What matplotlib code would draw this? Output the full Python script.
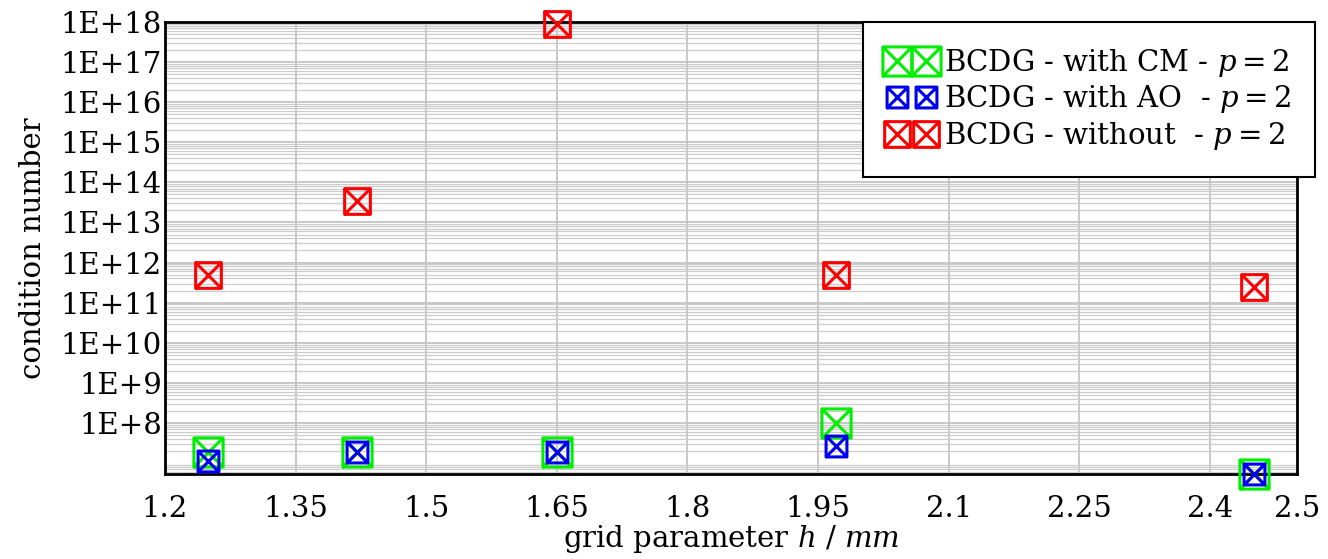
import matplotlib
matplotlib.use("Agg")
import matplotlib.pyplot as plt
import numpy as np
from matplotlib.path import Path
from matplotlib.ticker import LogLocator, FixedLocator, FuncFormatter, NullFormatter

plt.rcParams["font.family"] = ["DejaVu Serif"]
plt.rcParams["mathtext.fontset"] = "dejavuserif"

# grid parameter h (mm)
h_vals = [1.25, 1.42, 1.65, 1.97, 2.45]

# condition numbers
cond_cm = [1.9e7, 1.9e7, 1.9e7, 1.0e8, 5.3e6]
cond_ao = [1.1e7, 1.9e7, 1.9e7, 2.7e7, 5.3e6]
cond_without = [5.0e11, 3.5e13, 9.0e17, 5.0e11, 2.4e11]

series_labels = [
    r"BCDG - with CM - $p = 2$",
    r"BCDG - with AO  - $p = 2$",
    r"BCDG - without  - $p = 2$",
]
series_colors = ["#00ee00", "#0000ee", "#ff0000"]

x_ticks = [1.2, 1.35, 1.5, 1.65, 1.8, 1.95, 2.1, 2.25, 2.4, 2.5]

# square with crossed diagonals
box_x = Path(
    [(-1, -1), (1, -1), (1, 1), (-1, 1), (-1, -1), (1, 1), (-1, 1), (1, -1)],
    [Path.MOVETO, Path.LINETO, Path.LINETO, Path.LINETO, Path.LINETO,
     Path.LINETO, Path.MOVETO, Path.LINETO],
)

FS = 21

fig = plt.figure(figsize=(13.28, 5.59), dpi=100)
ax = fig.add_axes([0.1242, 0.152, 0.9767 - 0.1242, 0.9606 - 0.152])

sizes = [21, 15, 18.5]
for vals, col, lab, ms in zip([cond_cm, cond_ao, cond_without], series_colors, series_labels, sizes):
    ax.plot(h_vals, vals, linestyle="none", marker=box_x, markersize=ms,
            markerfacecolor="none", markeredgecolor=col, markeredgewidth=2.2,
            label=lab, clip_on=False, zorder=3)

ax.set_yscale("log")
ax.set_xlim(1.2, 2.5)
ax.set_ylim(5.3e6, 1e18)

ax.xaxis.set_major_locator(FixedLocator(x_ticks))
ax.xaxis.set_major_formatter(FuncFormatter(lambda v, p: f"{v:g}"))
ax.yaxis.set_major_locator(FixedLocator([10.0 ** k for k in range(8, 19)]))
ax.yaxis.set_major_formatter(FuncFormatter(lambda v, p: f"1E+{int(round(np.log10(v)))}"))
ax.yaxis.set_minor_locator(LogLocator(base=10, subs=np.arange(2, 10), numticks=100))
ax.yaxis.set_minor_formatter(NullFormatter())

ax.grid(True, which="major", color="#c4c4c4", linewidth=1.3)
ax.grid(True, which="minor", axis="y", color="#cccccc", linewidth=0.9)
ax.set_axisbelow(True)

ax.tick_params(axis="both", which="both", length=0, labelsize=FS)
ax.tick_params(axis="x", pad=15)
ax.tick_params(axis="y", pad=2)
for sp in ax.spines.values():
    sp.set_linewidth(2)
    sp.set_color("black")

ax.set_xlabel(r"grid parameter $h$ / $mm$", fontsize=FS, labelpad=0)
ax.set_ylabel("condition number", fontsize=FS, labelpad=10)

leg = ax.legend(loc="upper right", bbox_to_anchor=(1.016, 1.0), borderaxespad=0,
                numpoints=2, handlelength=1.6, handletextpad=0.3, fontsize=FS,
                fancybox=False, framealpha=1, edgecolor="black",
                borderpad=0.85, labelspacing=0.16)
leg.get_frame().set_linewidth(1.5)

fig.savefig("out.png", dpi=100)
